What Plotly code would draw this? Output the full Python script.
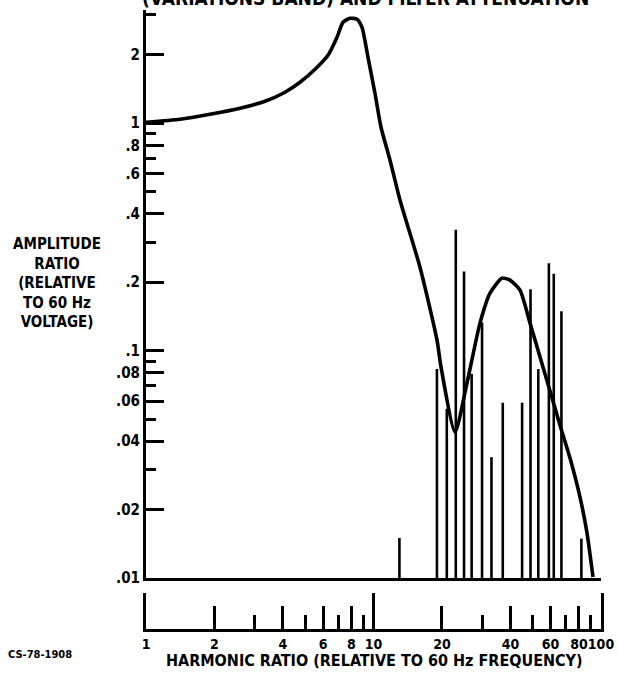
import plotly.graph_objects as go

# ---- data ----
curve_harmonic = [1.0, 1.411, 1.911, 2.59, 3.336, 4.083, 4.753, 5.534, 6.31, 6.912, 7.343,
                  7.884, 8.463, 8.903, 9.458, 10.15, 10.79, 11.82, 13.08, 16.01, 19.02,
                  19.81, 22.82, 25.76, 29.38, 32.52, 36.72, 39.81, 44.06, 48.75, 53.95,
                  59.68, 66.04, 73.07, 80.85, 86.8, 92.2]
curve_amplitude = [1.01, 1.041, 1.095, 1.164, 1.249, 1.369, 1.514, 1.727, 1.99, 2.388, 2.78,
                   2.894, 2.866, 2.642, 1.95, 1.355, 0.96, 0.688, 0.4586, 0.2328, 0.1112,
                   0.0846, 0.0438, 0.072, 0.1321, 0.179, 0.2083, 0.2041, 0.1845, 0.1321, 0.0937,
                   0.0664, 0.047, 0.0337, 0.0227, 0.01577, 0.0101]

bar_harmonic = [13, 19, 21, 23, 25, 27, 30, 33, 37, 45, 49, 53, 59, 62, 67, 82]
bar_amplitude = [0.015, 0.083, 0.0555, 0.34, 0.223, 0.079, 0.133, 0.034, 0.059, 0.059,
                 0.186, 0.083, 0.242, 0.218, 0.149, 0.0149]
bar_base = 0.01

y_tickvals = [0.01, 0.02, 0.04, 0.06, 0.08, 0.1, 0.2, 0.4, 0.6, 0.8, 1, 2]
y_ticktext = [".01", ".02", ".04", ".06", ".08", ".1", ".2", ".4", ".6", ".8", "1", "2"]
y_minor_vals = [0.03, 0.05, 0.07, 0.09, 0.3, 0.5, 0.7, 0.9, 3]

x_tickvals = [1, 2, 4, 6, 8, 10, 20, 40, 60, 80, 100]
x_ticktext = ["1", "2", "4", "6", "8", "10", "20", "40", "60", "80", "100"]
x_minor_vals = [3, 5, 7, 9, 30, 50, 70, 90]
x_decade_vals = [10]

FONT = "DejaVu Sans Condensed, Liberation Sans Narrow, sans-serif"

# ---- build bar segments from the data ----
bx, by = [], []
for h, a in zip(bar_harmonic, bar_amplitude):
    bx += [h, h, None]
    by += [bar_base, a, None]

fig = go.Figure()
fig.add_trace(go.Scatter(x=bx, y=by, mode="lines", line=dict(color="black", width=2.6),
                         xaxis="x", yaxis="y", hoverinfo="skip", showlegend=False))
fig.add_trace(go.Scatter(x=curve_harmonic, y=curve_amplitude, mode="lines",
                         line=dict(color="black", width=3.6, shape="spline", smoothing=0.6),
                         xaxis="x", yaxis="y", showlegend=False))
# invisible traces for the lower strip axes
fig.add_trace(go.Scatter(x=[1, 100], y=[0, 0], mode="lines", line=dict(width=0),
                         xaxis="x2", yaxis="y2", hoverinfo="skip", showlegend=False))
fig.add_trace(go.Scatter(x=[1, 100], y=[0, 0], mode="lines", line=dict(width=0),
                         xaxis="x3", yaxis="y2", hoverinfo="skip", showlegend=False))

main_bottom = (629 - 578) / 619.0
strip_top = (629 - 593) / 619.0

fig.update_layout(
    width=618, height=676,
    margin=dict(l=146, r=17, t=10, b=47, autoexpand=False),
    paper_bgcolor="white", plot_bgcolor="white",
    font=dict(family=FONT, color="black", size=14),
    xaxis=dict(type="log", range=[0, 2], domain=[0, 1], anchor="y", automargin=False,
               showline=True, linecolor="black", linewidth=3, mirror=False,
               showgrid=False, zeroline=False, showticklabels=False, ticks=""),
    yaxis=dict(type="log", range=[-2, 0.498], domain=[main_bottom, 1], anchor="x",
               automargin=False,
               showline=True, linecolor="black", linewidth=3,
               showgrid=False, zeroline=False,
               tickmode="array", tickvals=y_tickvals, ticktext=y_ticktext,
               ticks="inside", ticklen=18, tickwidth=2.5, tickcolor="black",
               tickfont=dict(family=FONT, size=15, weight="bold"),
               minor=dict(tickmode="array", tickvals=y_minor_vals, ticks="inside",
                          ticklen=10, tickwidth=2.5, tickcolor="black", showgrid=False)),
    xaxis2=dict(type="log", range=[0, 2], domain=[0, 1], anchor="y2", automargin=False,
                showline=True, linecolor="black", linewidth=3,
                showgrid=False, zeroline=False, tickangle=0,
                tickmode="array", tickvals=x_tickvals, ticktext=x_ticktext,
                ticks="inside", ticklen=23, tickwidth=2.5, tickcolor="black",
                tickfont=dict(family=FONT, size=14, weight="bold"),
                minor=dict(tickmode="array", tickvals=x_minor_vals, ticks="inside",
                           ticklen=14, tickwidth=2.5, tickcolor="black", showgrid=False)),
    xaxis3=dict(type="log", range=[0, 2], overlaying="x2", anchor="y2",
                automargin=False,
                showline=False, showgrid=False, zeroline=False, showticklabels=False,
                tickmode="array", tickvals=x_decade_vals,
                ticks="inside", ticklen=36, tickwidth=3, tickcolor="black"),
    yaxis2=dict(range=[0, 1], domain=[0, strip_top], anchor="x2", automargin=False,
                showline=True, mirror=True, linecolor="black", linewidth=3,
                showgrid=False, zeroline=False, showticklabels=False, ticks=""),
)


def px(xp):
    return (xp - 146) / 455.0


def py(yp):
    return (629 - yp) / 619.0


fig.add_annotation(text="AMPLITUDE<br>RATIO<br>(RELATIVE<br>TO 60 Hz<br>VOLTAGE)",
                   xref="paper", yref="paper", x=px(57), y=py(283),
                   xanchor="center", yanchor="middle", showarrow=False, align="center",
                   font=dict(family=FONT, size=15, weight="bold"))
fig.add_annotation(text="HARMONIC RATIO (RELATIVE TO 60 Hz FREQUENCY)",
                   xref="paper", yref="paper", x=px(374), y=py(660),
                   xanchor="center", yanchor="middle", showarrow=False,
                   font=dict(family=FONT, size=16, weight="bold"))
fig.add_annotation(text="CS-78-1908",
                   xref="paper", yref="paper", x=px(40), y=py(654),
                   xanchor="center", yanchor="middle", showarrow=False,
                   font=dict(family=FONT, size=11, weight="bold"))
fig.add_annotation(text="(VARIATIONS BAND) AND FILTER ATTENUATION",
                   xref="paper", yref="paper", x=px(365), y=py(-2),
                   xanchor="center", yanchor="middle", showarrow=False,
                   font=dict(family=FONT, size=19, weight="bold"))

fig.write_html("out.html", config={"displayModeBar": False},
               post_script="document.body.style.margin='0px';")
